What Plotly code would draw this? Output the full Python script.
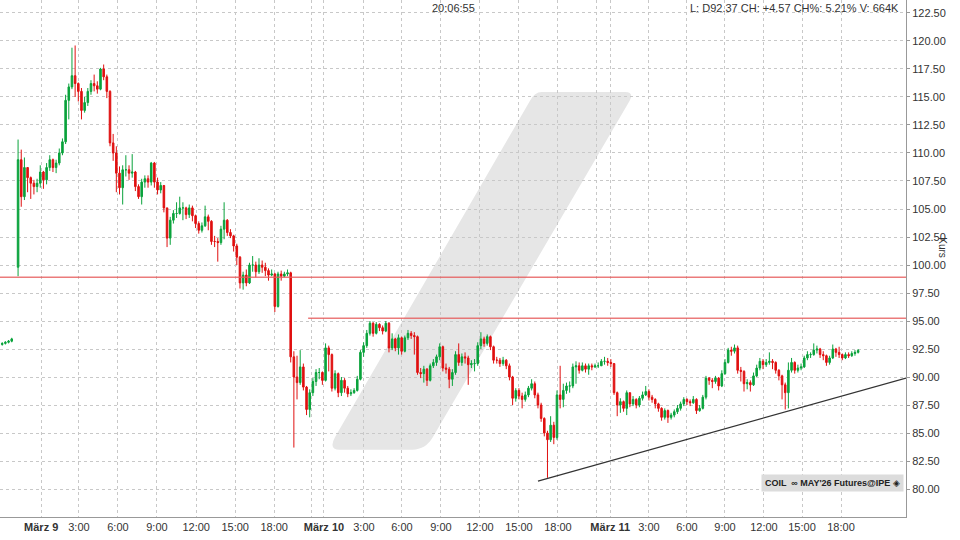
import plotly.graph_objects as go

# 15-minute candles, index based x axis (sessions joined without gaps)
first_open = 99.8
closes = [
    109.4, 106.1, 108.7, 107.8, 107.3, 107.0, 107.3, 108.3, 107.6, 108.7,
    109.4, 108.7, 109.1, 110.0, 111.0, 114.7, 115.9, 116.9, 116.2, 115.5,
    113.8, 114.5, 115.5, 116.2, 116.0, 115.7, 117.5, 116.8, 115.5, 110.9,
    110.0, 108.2, 106.9, 108.5, 108.5, 108.2, 108.3, 107.0, 106.1, 107.4,
    107.7, 107.4, 109.1, 107.4, 106.7, 107.1, 105.1, 102.4, 104.0, 104.6,
    104.6, 105.1, 105.1, 104.5, 105.1, 104.4, 103.7, 103.1, 103.5, 104.3,
    103.9, 102.1, 102.1, 102.0, 103.2, 104.0, 102.9, 102.6, 101.7, 100.7,
    98.4, 99.1, 98.4, 100.0, 100.0, 99.4, 100.0, 99.8, 99.5, 99.1,
    99.2, 96.3, 99.2, 99.0, 99.2, 99.3, 91.8, 90.0, 89.5, 90.9,
    89.1, 87.1, 88.6, 89.6, 90.4, 90.4, 89.7, 92.6, 92.0, 89.0,
    90.3, 88.6, 89.7, 89.0, 88.5, 88.6, 88.8, 89.8, 92.2, 92.8,
    93.9, 94.8, 93.9, 94.7, 94.4, 94.1, 94.8, 92.6, 93.4, 92.6,
    93.5, 92.3, 93.5, 93.9, 93.7, 93.6, 90.4, 90.3, 90.7, 89.7,
    91.0, 91.3, 91.8, 92.7, 90.8, 90.7, 89.8, 90.4, 92.0, 91.3,
    91.8, 91.7, 91.1, 91.2, 91.2, 92.8, 93.4, 93.0, 93.6, 92.7,
    91.5, 91.5, 91.2, 91.5, 91.0, 90.0, 88.1, 88.8, 88.3, 88.0,
    88.4, 89.0, 89.4, 88.4, 87.5, 86.3, 85.0, 84.4, 85.7, 84.6,
    88.4, 88.0, 88.8, 89.2, 89.2, 90.9, 91.0, 90.6, 91.0, 90.7,
    91.0, 90.9, 91.0, 91.0, 91.4, 91.4, 91.3, 91.2, 88.6, 87.5,
    87.8, 87.2, 88.6, 87.6, 88.0, 87.5, 88.1, 88.4, 88.7, 88.2,
    88.0, 87.6, 87.2, 86.4, 87.0, 86.4, 86.6, 86.9, 87.2, 87.6,
    88.0, 87.8, 87.7, 88.0, 87.0, 87.2, 88.2, 89.9, 89.7, 89.6,
    89.9, 89.2, 90.3, 91.3, 92.4, 92.3, 92.6, 90.6, 90.5, 89.4,
    89.5, 89.3, 90.1, 90.8, 91.4, 91.1, 91.3, 91.4, 91.3, 90.6,
    90.1, 89.3, 88.6, 90.6, 91.3, 90.6, 90.8, 90.9, 91.7, 92.0,
    92.0, 92.4, 92.5, 92.0, 91.9, 91.3, 91.7, 92.5, 92.2, 92.0,
    91.7, 92.0, 91.9, 92.1, 92.2, 92.37,
]
highs = [
    111.2, 110.3, 109.6, 108.6, 107.9, 107.6, 107.7, 108.9, 108.4, 109.1,
    109.8, 109.5, 109.4, 110.4, 111.3, 115.2, 116.2, 119.4, 119.6, 116.3,
    115.8, 115.0, 115.8, 116.5, 117.0, 116.4, 117.6, 117.9, 117.0, 115.6,
    111.7, 110.6, 108.8, 108.9, 109.8, 108.9, 109.9, 108.4, 107.2, 107.7,
    108.0, 108.0, 109.2, 109.2, 107.8, 107.4, 107.0, 105.0, 104.3, 104.9,
    105.6, 106.1, 105.6, 105.2, 105.4, 105.3, 104.5, 103.9, 103.8, 105.3,
    104.5, 104.0, 102.6, 102.4, 103.5, 105.6, 104.1, 103.2, 102.7, 101.9,
    100.8, 99.4, 99.6, 100.2, 100.8, 100.3, 100.6, 100.4, 100.2, 99.7,
    99.6, 99.3, 99.4, 99.5, 99.4, 99.6, 99.4, 92.3, 91.9, 92.4,
    91.2, 89.2, 88.9, 89.9, 90.7, 90.8, 90.5, 93.0, 92.8, 92.1,
    90.6, 90.4, 90.0, 89.9, 89.2, 88.9, 89.0, 90.1, 92.4, 93.1,
    94.2, 95.0, 94.9, 94.9, 94.8, 94.6, 95.0, 94.9, 93.9, 93.5,
    93.8, 93.6, 93.7, 94.2, 94.1, 94.0, 93.7, 90.8, 91.0, 90.8,
    91.2, 91.6, 92.0, 93.0, 92.8, 91.2, 90.9, 90.7, 92.3, 93.0,
    92.1, 92.2, 91.9, 91.5, 91.6, 93.1, 94.0, 93.6, 93.8, 93.7,
    92.8, 91.8, 91.7, 91.8, 91.6, 91.2, 90.1, 89.0, 89.0, 88.6,
    88.7, 89.2, 89.8, 89.6, 88.6, 87.7, 86.4, 85.2, 86.5, 86.0,
    88.8, 91.0, 89.4, 89.5, 89.6, 91.2, 91.4, 91.3, 91.3, 91.2,
    91.2, 91.2, 91.2, 91.3, 91.6, 91.8, 91.7, 91.6, 91.2, 88.7,
    88.1, 87.9, 88.8, 88.6, 88.3, 88.1, 88.3, 88.7, 89.2, 88.9,
    88.4, 88.1, 87.7, 87.3, 87.2, 87.1, 86.8, 87.1, 87.5, 87.8,
    88.2, 88.1, 88.0, 88.3, 88.1, 87.5, 88.4, 90.1, 90.0, 89.9,
    90.1, 90.0, 90.6, 91.6, 92.6, 92.7, 92.9, 92.8, 90.9, 90.6,
    89.8, 89.7, 90.4, 91.1, 91.7, 91.6, 91.6, 92.2, 91.6, 91.4,
    90.7, 90.2, 89.5, 91.3, 91.7, 91.4, 91.1, 91.2, 91.9, 92.3,
    92.2, 93.0, 92.8, 92.6, 92.3, 92.0, 91.9, 92.9, 92.6, 92.7,
    92.1, 92.2, 92.2, 92.3, 92.4, 92.5,
]
lows = [
    99.0, 105.2, 105.8, 106.5, 105.9, 106.3, 106.5, 106.9, 106.8, 107.2,
    108.4, 108.3, 108.2, 108.9, 109.8, 110.8, 113.0, 115.7, 115.0, 114.6,
    113.0, 113.6, 114.2, 115.2, 115.5, 115.3, 115.6, 116.5, 114.9, 110.6,
    109.3, 106.5, 106.3, 105.4, 107.9, 107.6, 107.8, 106.6, 105.9, 105.4,
    106.9, 106.9, 107.1, 106.9, 106.3, 106.4, 104.7, 101.6, 101.8, 103.7,
    104.2, 104.5, 104.0, 104.1, 104.2, 103.9, 103.3, 102.8, 102.9, 103.4,
    103.1, 101.8, 101.6, 100.3, 101.8, 102.3, 102.6, 102.4, 101.2, 100.0,
    97.9, 97.8, 98.1, 98.3, 99.4, 98.9, 99.2, 99.3, 99.0, 98.6,
    99.0, 95.8, 96.2, 98.6, 98.9, 99.0, 91.3, 83.7, 88.0, 89.3,
    88.8, 86.6, 86.4, 88.3, 89.2, 89.8, 89.3, 89.6, 90.5, 88.7,
    88.8, 88.2, 88.3, 88.6, 88.2, 88.3, 88.5, 88.7, 89.7, 91.8,
    92.6, 93.7, 93.6, 93.8, 94.1, 93.8, 94.0, 92.2, 92.4, 92.3,
    92.0, 92.0, 92.2, 93.3, 93.4, 92.0, 90.2, 89.9, 89.5, 89.2,
    89.6, 90.8, 91.0, 91.5, 90.5, 90.3, 89.0, 89.2, 90.2, 91.0,
    91.0, 91.2, 89.3, 90.8, 90.5, 91.0, 92.5, 92.7, 92.8, 92.4,
    91.2, 91.2, 90.9, 91.0, 90.7, 89.7, 87.5, 87.8, 88.0, 87.2,
    87.8, 88.2, 88.8, 88.1, 87.2, 86.0, 84.7, 81.0, 84.2, 84.0,
    84.4, 87.2, 87.3, 88.5, 88.6, 89.0, 89.4, 90.3, 90.5, 90.4,
    90.2, 90.6, 90.8, 90.8, 91.0, 91.1, 91.0, 90.9, 88.4, 86.5,
    86.8, 86.9, 86.6, 87.3, 87.4, 87.2, 87.3, 87.9, 88.3, 87.9,
    87.7, 87.2, 86.9, 86.1, 86.2, 85.9, 86.2, 86.4, 86.7, 87.0,
    87.4, 87.5, 87.4, 87.6, 86.7, 86.9, 87.1, 88.0, 89.3, 89.0,
    89.4, 88.8, 89.1, 90.2, 91.2, 91.9, 92.1, 90.3, 89.6, 88.7,
    88.9, 88.7, 89.2, 90.0, 90.6, 90.7, 90.9, 91.1, 90.7, 90.3,
    89.7, 88.0, 87.1, 87.2, 90.4, 90.3, 90.4, 90.6, 90.8, 91.5,
    91.7, 91.9, 92.1, 91.7, 91.5, 91.0, 91.1, 91.6, 91.8, 91.7,
    91.5, 91.6, 91.7, 91.8, 91.9, 92.1,
]
opens = [first_open] + closes[:-1]
bar_x = list(range(len(closes)))

# previous day's tail (left edge)
prev_x = [-5, -4, -3, -2]
prev_open = [92.9, 93.0, 93.1, 93.2]
prev_close = [93.0, 93.1, 93.2, 93.4]
prev_high = [93.1, 93.2, 93.3, 93.5]
prev_low = [92.8, 92.9, 93.0, 93.1]

tick_pos = [7.3, 19.2, 31.5, 43.8, 56.2, 68.5, 80.8, 92.7, 96.5, 109.1, 121.1,
            133.4, 145.7, 158.0, 170.3, 182.6, 186.8, 199.0, 211.0, 223.0,
            235.3, 247.3, 259.6]
tick_text = ["<b>März 9</b>", "3:00", "6:00", "9:00", "12:00", "15:00", "18:00", "",
             "<b>März 10</b>", "3:00", "6:00", "9:00", "12:00", "15:00", "18:00", "",
             "<b>März 11</b>", "3:00", "6:00", "9:00", "12:00", "15:00", "18:00"]
y_ticks = [80 + 2.5 * k for k in range(18)]

resist_1 = 98.9
resist_2 = 95.25
trend_start = (164, 80.7)
trend_end = (280.1, 89.9)

green = "#0aa33c"
red = "#e01010"

fig = go.Figure()
fig.add_trace(go.Candlestick(
    x=prev_x, open=prev_open, high=prev_high, low=prev_low, close=prev_close,
    increasing=dict(line=dict(color=green, width=1), fillcolor=green),
    decreasing=dict(line=dict(color=red, width=1), fillcolor=red),
    whiskerwidth=0, showlegend=False, hoverinfo="skip",
))
fig.add_trace(go.Candlestick(
    x=bar_x, open=opens, high=highs, low=lows, close=closes,
    increasing=dict(line=dict(color=green, width=1), fillcolor=green),
    decreasing=dict(line=dict(color=red, width=1), fillcolor=red),
    whiskerwidth=0, showlegend=False,
))

# watermark logo
fig.add_shape(type="path", xref="paper", yref="paper", layer="below",
              path="M 0.598,0.822 L 0.690,0.822 Q 0.700,0.822 0.695,0.805 "
                   "L 0.478,0.155 Q 0.470,0.130 0.455,0.130 L 0.375,0.130 "
                   "Q 0.362,0.130 0.370,0.155 L 0.585,0.805 Q 0.590,0.822 0.598,0.822 Z",
              fillcolor="#e6e6e6", line=dict(width=0))

fig.add_hline(y=resist_1, line=dict(color="rgba(230,90,90,0.8)", width=1.5))
fig.add_shape(type="line", xref="x", yref="y", x0=91.5, x1=280.1, y0=resist_2, y1=resist_2,
              line=dict(color="rgba(230,90,90,0.8)", width=1.5))
fig.add_shape(type="line", xref="x", yref="y", x0=trend_start[0], y0=trend_start[1],
              x1=trend_end[0], y1=trend_end[1], line=dict(color="#333333", width=1.2))

fig.add_annotation(x=0.5, y=1.0, xref="paper", yref="paper", xanchor="center", yanchor="top",
                   text="20:06:55", showarrow=False, font=dict(size=11, color="#333"))
fig.add_annotation(x=0.995, y=1.0, xref="paper", yref="paper", xanchor="right", yanchor="top",
                   text="L: D92.37 CH: +4.57 CH%: 5.21% V: 664K", showarrow=False,
                   font=dict(size=11, color="#333"))
fig.add_annotation(x=0.998, y=0.065, xref="paper", yref="paper", xanchor="right", yanchor="middle",
                   text="<b>COIL  ∞ MAY'26 Futures@IPE</b> ◈", showarrow=False,
                   bgcolor="#dcdcdc", font=dict(size=9, color="#222"), borderpad=3)
fig.add_annotation(x=1.049, y=0.52, xref="paper", yref="paper", text="Kurs", textangle=90,
                   showarrow=False, font=dict(size=10, color="#333"))

fig.update_layout(
    width=960, height=540, margin=dict(l=0, r=54, t=0, b=23),
    plot_bgcolor="white", paper_bgcolor="white",
    font=dict(family="Liberation Sans, Arial", size=11, color="#333"),
    xaxis=dict(range=[-5.7, 280.1], rangeslider=dict(visible=False), tickmode="array",
               tickvals=tick_pos, ticktext=tick_text, showgrid=True, gridcolor="#c8c8c8",
               griddash="dot", gridwidth=1, showline=True, linecolor="#999", zeroline=False,
               ticks="", tickfont=dict(size=11)),
    yaxis=dict(range=[77.5, 123.66], side="right", tickmode="array", tickvals=y_ticks,
               ticktext=[f"{v:.2f}" for v in y_ticks], showgrid=True, gridcolor="#c8c8c8",
               griddash="dot", showline=True, linecolor="#999", ticks="outside", ticklen=3,
               tickcolor="#999", zeroline=False, tickfont=dict(size=11)),
)

fig.write_html("out.html", config={"displayModeBar": False},
               post_script="document.body.style.margin='0';")
